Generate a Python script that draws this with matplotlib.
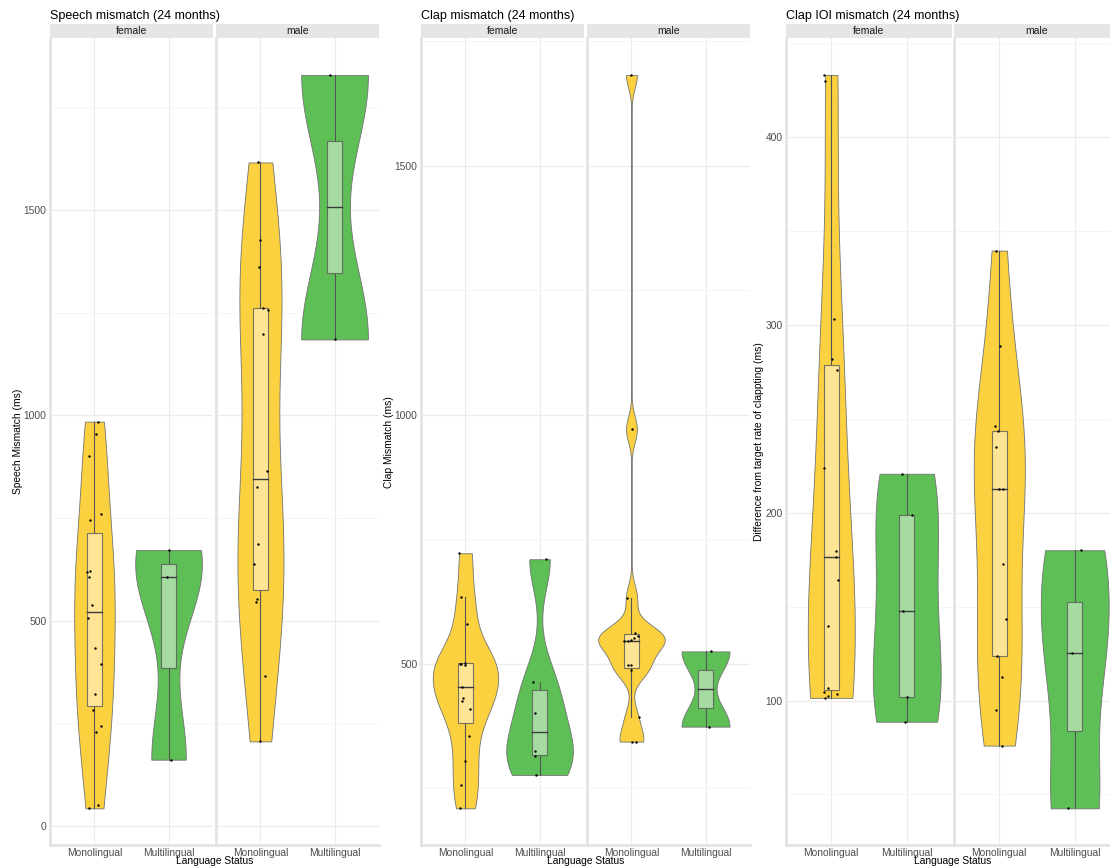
import numpy as np
import matplotlib
matplotlib.use("Agg")
import matplotlib.pyplot as plt
from matplotlib.patches import Rectangle

plt.rcParams['font.family'] = ['Liberation Sans', 'DejaVu Sans']

#%% dados (ms) + deslocamento horizontal do jitter de cada ponto
lang_levels = ["Monolingual", "Multilingual"]
sex_levels = ["female", "male"]

# Speech mismatch
speech_f_mono = [984.7, 955, 900, 761, 745, 622, 619, 607, 538, 506, 433, 395, 322, 281.5, 243, 230, 51, 43]
speech_f_mono_jit = [0.045, 0.027, -0.072, 0.086, -0.059, -0.054, -0.095, -0.068, -0.027, -0.09,
                     0.005, 0.09, 0.009, -0.023, 0.09, 0.023, 0.045, -0.072]
speech_f_multi = [672, 606, 161.5]
speech_f_multi_jit = [0.0, -0.023, 0.036]
speech_m_mono = [1616, 1426, 1362, 1262, 1256, 1197, 865, 826, 686, 638, 552, 545, 365, 206]
speech_m_mono_jit = [-0.032, -0.005, -0.018, 0.036, 0.099, 0.036, 0.09, -0.045, -0.036, -0.081,
                     -0.041, -0.059, 0.068, -0.005]
speech_m_multi = [1829, 1185]
speech_m_multi_jit = [-0.068, 0.0]

# Clap mismatch
clap_f_mono = [722, 634, 579, 502, 500, 499, 498, 453, 431, 426, 408.5, 355, 305, 256, 210]
clap_f_mono_jit = [-0.081, -0.059, 0.018, 0.0, -0.077, -0.059, -0.009, -0.04, -0.032, -0.045,
                   0.068, 0.05, 0.0, -0.059, -0.068]
clap_f_multi = [710, 463, 402, 325, 315, 277]
clap_f_multi_jit = [0.09, -0.095, -0.063, -0.059, -0.063, -0.045]
clap_m_mono = [1682, 971, 632, 562, 556, 552, 548, 545, 545, 497, 497, 488, 393, 344, 344]
clap_m_mono_jit = [0.0, 0.009, -0.054, 0.054, 0.09, 0.036, -0.005, -0.05, -0.095, -0.045,
                   0.0, 0.0, 0.099, 0.005, 0.063]
clap_m_multi = [525, 374]
clap_m_multi_jit = [0.077, 0.045]

# Clap IOI mismatch
ioi_f_mono = [433, 429.6, 303, 281.7, 275.7, 224, 179.6, 176.4, 164.4, 139.7, 106.6, 104.6, 103.7, 102.3, 101.4]
ioi_f_mono_jit = [-0.095, -0.081, 0.04, 0.014, 0.081, -0.1, 0.063, 0.059, 0.09, -0.045,
                  -0.05, -0.095, 0.072, -0.05, -0.086]
ioi_f_multi = [220.7, 199, 147.9, 101.8, 88.7]
ioi_f_multi_jit = [-0.059, 0.072, -0.045, 0.0, -0.018]
ioi_m_mono = [339.5, 288.8, 246, 243.3, 235, 212.4, 212.4, 172.5, 143.6, 123.8, 112.3, 95, 76]
ioi_m_mono_jit = [-0.045, 0.005, -0.059, -0.018, -0.05, 0.045, 0.0, 0.045, 0.09, -0.027,
                  0.036, -0.045, 0.032]
ioi_m_multi = [180, 125.2, 42.6]
ioi_m_multi_jit = [0.081, -0.032, -0.086]

#%% estilo
fill_cols = {"Monolingual": "#FCD13F", "Multilingual": "#5DBF55"}
W, H = 1110, 867
AX_TOP, AX_BOT = 38.3, 845.0
STRIP_H = 14.3


def fx(px):
    return px / W


def fy(py):
    return 1 - py / H


def bw_nrd0(x):
    # mesma regra do bw.nrd0 do R
    x = np.asarray(x, float)
    sd = x.std(ddof=1)
    iqr = np.subtract(*np.percentile(x, [75, 25]))
    lo = min(sd, iqr / 1.34)
    if lo == 0:
        lo = sd if sd > 0 else 1.0
    return 0.9 * lo * len(x) ** -0.2


def densidade(x):
    x = np.asarray(x, float)
    bw = bw_nrd0(x)
    grid = np.linspace(x.min(), x.max(), 512)
    k = np.exp(-0.5 * ((grid[:, None] - x[None, :]) / bw) ** 2)
    dens = k.sum(axis=1) / (len(x) * bw * np.sqrt(2 * np.pi))
    return grid, dens


def box_stats(x):
    x = np.asarray(x, float)
    q1, med, q3 = np.percentile(x, [25, 50, 75])
    iqr = q3 - q1
    lo = x[x >= q1 - 1.5 * iqr].min()
    hi = x[x <= q3 + 1.5 * iqr].max()
    return q1, med, q3, lo, hi


def desenha_faceta(ax, grupos):
    # escala "area": largura relativa ao maior pico da faceta
    dens_all = [densidade(v) for v, _ in grupos]
    dmax = max(d.max() for _, d in dens_all)
    for i, ((vals, jit), (grid, dens)) in enumerate(zip(grupos, dens_all)):
        pos = i + 1
        half = dens / dmax * 0.45
        ax.fill_betweenx(grid, pos - half, pos + half, facecolor=fill_cols[lang_levels[i]],
                         edgecolor="#737373", linewidth=0.6, zorder=2)
        q1, med, q3, lo, hi = box_stats(vals)
        ax.plot([pos, pos], [q3, hi], color="#555555", lw=0.8, zorder=3)
        ax.plot([pos, pos], [lo, q1], color="#555555", lw=0.8, zorder=3)
        ax.add_patch(Rectangle((pos - 0.1, q1), 0.2, q3 - q1, facecolor=(1, 1, 1, 0.45),
                               edgecolor=(0.35, 0.35, 0.35, 0.8), linewidth=0.8, zorder=3))
        ax.plot([pos - 0.1, pos + 0.1], [med, med], color="#3A3A3A", lw=1.0, zorder=3)
        ax.scatter(pos + np.asarray(jit), vals, s=3, color="black", linewidths=0, zorder=4)


paineis = [
    dict(title="Speech mismatch (24 months)", ylab="Speech Mismatch (ms)",
         female=[(speech_f_mono, speech_f_mono_jit), (speech_f_multi, speech_f_multi_jit)],
         male=[(speech_m_mono, speech_m_mono_jit), (speech_m_multi, speech_m_multi_jit)],
         lefts=(50, 216), width=163, ylab_x=18,
         ticks=[0, 500, 1000, 1500], minor=[250, 750, 1250, 1750]),
    dict(title="Clap mismatch (24 months)", ylab="Clap Mismatch (ms)",
         female=[(clap_f_mono, clap_f_mono_jit), (clap_f_multi, clap_f_multi_jit)],
         male=[(clap_m_mono, clap_m_mono_jit), (clap_m_multi, clap_m_multi_jit)],
         lefts=(421, 587), width=163, ylab_x=389,
         ticks=[500, 1000, 1500], minor=[250, 750, 1250, 1750]),
    dict(title="Clap IOI mismatch (24 months)", ylab="Difference from target rate of clappting (ms)",
         female=[(ioi_f_mono, ioi_f_mono_jit), (ioi_f_multi, ioi_f_multi_jit)],
         male=[(ioi_m_mono, ioi_m_mono_jit), (ioi_m_multi, ioi_m_multi_jit)],
         lefts=(786, 954), width=166, ylab_x=759,
         ticks=[100, 200, 300, 400], minor=[50, 150, 250, 350, 450]),
]

fig = plt.figure(figsize=(W / 100, H / 100), dpi=100)

for p in paineis:
    todos = np.concatenate([np.asarray(v, float) for v, _ in p["female"] + p["male"]])
    rng = todos.max() - todos.min()
    ylim = (todos.min() - 0.05 * rng, todos.max() + 0.05 * rng)

    for k, (sexo, left) in enumerate(zip(sex_levels, p["lefts"])):
        ax = fig.add_axes([fx(left), fy(AX_BOT), p["width"] / W, (AX_BOT - AX_TOP) / H])
        ax.set_xlim(0.4, 2.6)
        ax.set_ylim(*ylim)
        ax.set_yticks(p["ticks"])
        ax.set_yticks([m for m in p["minor"] if ylim[0] < m < ylim[1]], minor=True)
        ax.set_xticks([1, 2])
        ax.set_xticklabels(lang_levels)
        ax.grid(True, which="major", color="#EBEBEB", lw=0.8, zorder=0)
        ax.grid(True, which="minor", axis="y", color="#F4F4F4", lw=0.6, zorder=0)
        ax.set_axisbelow(True)
        ax.tick_params(which="both", length=0, labelsize=7.4, labelcolor="#4D4D4D", pad=2.5)
        if k > 0:
            ax.tick_params(axis="y", labelleft=False)
        for s in ["top", "right"]:
            ax.spines[s].set_visible(False)
        for s in ["left", "bottom"]:
            ax.spines[s].set_color("#E3E3E3")
            ax.spines[s].set_linewidth(2)

        desenha_faceta(ax, p[sexo])

        # faixa da faceta
        fig.patches.append(Rectangle((fx(left), fy(AX_TOP)), p["width"] / W, STRIP_H / H,
                                     transform=fig.transFigure, facecolor="#E6E6E6",
                                     edgecolor="none", zorder=1))
        fig.text(fx(left + p["width"] / 2), fy(AX_TOP - STRIP_H / 2), sexo, ha="center",
                 va="center", fontsize=7.5, color="#1A1A1A")

    left0 = p["lefts"][0]
    right1 = p["lefts"][1] + p["width"]
    fig.text(fx(left0), fy(19), p["title"], ha="left", va="baseline", fontsize=9, color="black")
    fig.text(fx(p["ylab_x"]), fy((AX_TOP + AX_BOT) / 2), p["ylab"], rotation=90,
             ha="center", va="center", fontsize=7.4, color="black")
    fig.text(fx((left0 + right1) / 2), fy(866.5), "Language Status", ha="center", va="bottom",
             fontsize=7.4, color="black")

fig.savefig("out.png", dpi=100, facecolor="white")
